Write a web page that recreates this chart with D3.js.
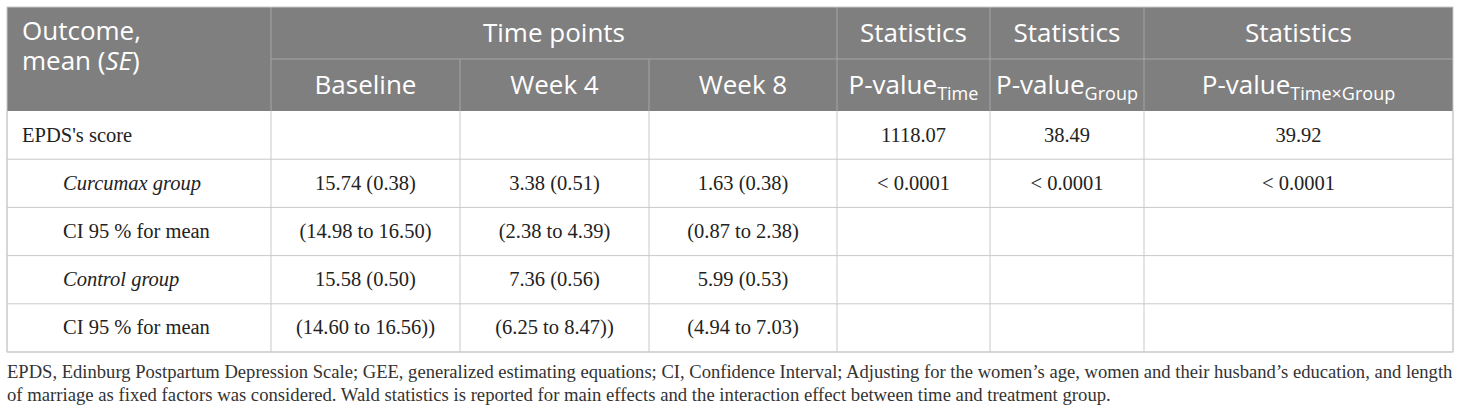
<!DOCTYPE html>
<html>
<head>
<meta charset="utf-8">
<script src="https://cdn.jsdelivr.net/npm/d3@7"></script>
<style>
  body { margin: 0; background: #fff; }
  svg { display: block; }
  .head { font-family: "Open Sans", sans-serif; fill: #fff; font-size: 26px; }
  .cell { font-family: "Liberation Serif", "DejaVu Serif", serif; fill: #222; font-size: 20.5px; }
  .note { font-family: "Liberation Serif", "DejaVu Serif", serif; fill: #333; font-size: 18.7px; }
</style>
</head>
<body>
<div id="table"></div>
<script>
// table content
var timePoints = ["Baseline", "Week 4", "Week 8"];
var statTitles = ["Statistics", "Statistics", "Statistics"];
var statSubs = ["Time", "Group", "Time\u00d7Group"];
var rowLabels = ["EPDS's score", "Curcumax group", "CI 95 % for mean", "Control group", "CI 95 % for mean"];
var rowItalic = [false, true, false, true, false];
var rowSub = [false, true, true, true, true];
var baselineVals = ["", "15.74 (0.38)", "(14.98 to 16.50)", "15.58 (0.50)", "(14.60 to 16.56))"];
var week4Vals = ["", "3.38 (0.51)", "(2.38 to 4.39)", "7.36 (0.56)", "(6.25 to 8.47))"];
var week8Vals = ["", "1.63 (0.38)", "(0.87 to 2.38)", "5.99 (0.53)", "(4.94 to 7.03)"];
var pTime = ["1118.07", "< 0.0001", "", "", ""];
var pGroup = ["38.49", "< 0.0001", "", "", ""];
var pInteraction = ["39.92", "< 0.0001", "", "", ""];
var noteLines = [
    "EPDS, Edinburg Postpartum Depression Scale; GEE, generalized estimating equations; CI, Confidence Interval; Adjusting for the women\u2019s age, women and their husband\u2019s education, and length",
    "of marriage as fixed factors was considered. Wald statistics is reported for main effects and the interaction effect between time and treatment group."
];

var width = 1460, height = 414;
var headBg = "#7f7f7f", headLine = "#a6a6a6", bodyLine = "#c9c9c9";

var svg = d3.select("#table").append("svg")
    .attr("width", width)
    .attr("height", height);

// column edges (index -> pixel) and rows
var colX = d3.scaleLinear()
    .domain([0, 1, 2, 3, 4, 5, 6, 7])
    .range([7, 271, 460, 649, 837, 990, 1144, 1453]);
var headY = d3.scaleLinear().domain([0, 2]).range([7, 111]);
var rowY = d3.scaleLinear().domain([0, rowLabels.length]).range([111, 352]);

function mid(s, a, b) { return (s(a) + s(b)) / 2; }

// ---- header ----
svg.append("rect")
    .attr("x", colX(0)).attr("y", headY(0))
    .attr("width", colX(7) - colX(0)).attr("height", headY(2) - headY(0))
    .attr("fill", headBg);

var hl = svg.append("g").attr("stroke", headLine).attr("stroke-width", 1);
hl.append("line")
    .attr("x1", colX(1)).attr("x2", colX(7))
    .attr("y1", headY(1)).attr("y2", headY(1));
[1, 4, 5, 6].forEach(function(c){
    hl.append("line").attr("x1", colX(c)).attr("x2", colX(c))
        .attr("y1", headY(0)).attr("y2", headY(2));
});
[2, 3].forEach(function(c){
    hl.append("line").attr("x1", colX(c)).attr("x2", colX(c))
        .attr("y1", headY(1)).attr("y2", headY(2));
});

var cap = 9;
// two-line label of the first column
var outcome = svg.append("text").attr("class", "head")
    .attr("x", colX(0) + 15).attr("y", mid(headY, 0, 1) + cap - 2);
outcome.append("tspan").text("Outcome,");
outcome.append("tspan")
    .attr("x", colX(0) + 15).attr("dy", 30)
    .text("mean (");
outcome.append("tspan").attr("font-style", "italic").text("SE");
outcome.append("tspan").text(")");

svg.append("text").attr("class", "head")
    .attr("x", mid(colX, 1, 4)).attr("y", mid(headY, 0, 1) + cap)
    .attr("text-anchor", "middle")
    .text("Time points");

svg.selectAll(".tp").data(timePoints).enter().append("text")
    .attr("class", "head tp")
    .attr("x", function(d, i){ return mid(colX, i + 1, i + 2); })
    .attr("y", mid(headY, 1, 2) + cap)
    .attr("text-anchor", "middle")
    .text(function(d){ return d; });

svg.selectAll(".st").data(statTitles).enter().append("text")
    .attr("class", "head st")
    .attr("x", function(d, i){ return mid(colX, i + 4, i + 5); })
    .attr("y", mid(headY, 0, 1) + cap)
    .attr("text-anchor", "middle")
    .text(function(d){ return d; });

var pv = svg.selectAll(".pv").data(statSubs).enter().append("text")
    .attr("class", "head pv")
    .attr("x", function(d, i){ return mid(colX, i + 4, i + 5); })
    .attr("y", mid(headY, 1, 2) + cap)
    .attr("text-anchor", "middle");
pv.append("tspan").text("P-value");
pv.append("tspan").attr("font-size", "18px").attr("dy", 6)
    .text(function(d){ return d; });

// ---- body ----
var bl = svg.append("g").attr("stroke", bodyLine).attr("stroke-width", 1).attr("fill", "none");
d3.range(1, rowLabels.length + 1).forEach(function(r){
    bl.append("line").attr("x1", colX(0)).attr("x2", colX(7))
        .attr("y1", rowY(r)).attr("y2", rowY(r));
});
d3.range(0, 8).forEach(function(c){
    bl.append("line").attr("x1", colX(c)).attr("x2", colX(c))
        .attr("y1", rowY(0)).attr("y2", rowY(rowLabels.length));
});
svg.append("rect")
    .attr("x", colX(0)).attr("y", headY(0))
    .attr("width", colX(7) - colX(0)).attr("height", rowY(rowLabels.length) - headY(0))
    .attr("fill", "none").attr("stroke", bodyLine);

var bodyCap = 6.5;
svg.selectAll(".lbl").data(rowLabels).enter().append("text")
    .attr("class", "cell lbl")
    .attr("x", function(d, i){ return colX(0) + (rowSub[i] ? 56 : 15); })
    .attr("y", function(d, i){ return mid(rowY, i, i + 1) + bodyCap; })
    .attr("font-style", function(d, i){ return rowItalic[i] ? "italic" : "normal"; })
    .text(function(d){ return d; });

var columns = [baselineVals, week4Vals, week8Vals, pTime, pGroup, pInteraction];
columns.forEach(function(vals, c){
    svg.selectAll(".c" + c).data(vals).enter().append("text")
        .attr("class", "cell c" + c)
        .attr("x", mid(colX, c + 1, c + 2))
        .attr("y", function(d, i){ return mid(rowY, i, i + 1) + bodyCap; })
        .attr("text-anchor", "middle")
        .text(function(d){ return d; });
});

// ---- footnote ----
var notes = svg.selectAll(".note").data(noteLines).enter().append("text")
    .attr("class", "note")
    .attr("x", colX(0))
    .attr("y", function(d, i){ return 378 + i * 23; })
    .text(function(d){ return d; });

// justify the first line across the table width
var first = notes.filter(function(d, i){ return i === 0; });
var target = colX(7) - colX(0);
var natural = first.node().getComputedTextLength();
if (natural > target) {
    first.style("font-size", (18.7 * target / natural) + "px");
} else {
    var gaps = noteLines[0].split(" ").length - 1;
    first.attr("word-spacing", (target - natural) / gaps);
}
</script>
</body>
</html>
